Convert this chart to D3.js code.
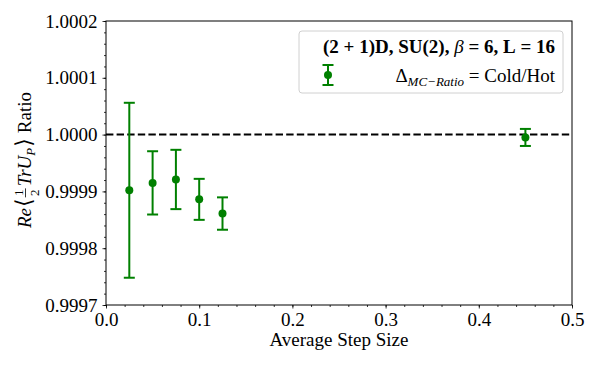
<!DOCTYPE html>
<html>
<head>
<meta charset="utf-8">
<script src="https://cdn.jsdelivr.net/npm/d3@7"></script>
<style>
  body { margin: 0; background: #fff; }
  svg text { font-family: "Liberation Serif", "DejaVu Serif", serif; fill: #000; }
</style>
</head>
<body>
<div id="chart"></div>
<script>
// step sizes and Cold/Hot ratios
const stepSizes = [0.025, 0.05, 0.075, 0.1, 0.125, 0.45];
const ratios = [0.999902, 0.999915, 0.999921, 0.999886, 0.999861, 0.999995];
const errors = [0.000154, 0.0000557, 0.0000522, 0.0000361, 0.0000285, 0.0000150];
const xTicks = [0.0, 0.1, 0.2, 0.3, 0.4, 0.5];
const yTicks = [0.9997, 0.9998, 0.9999, 1.0000, 1.0001, 1.0002];

const W = 600, H = 370;
const margin = { top: 21, right: 28, bottom: 65, left: 106 };
const width = W - margin.left - margin.right;
const height = H - margin.top - margin.bottom;
const green = "#008000";
const fs = 19;

const svg = d3.select("#chart").append("svg").attr("width", W).attr("height", H);
const g = svg.append("g").attr("transform", `translate(${margin.left},${margin.top})`);

const x = d3.scaleLinear().domain([0, 0.5]).range([0, width]);
const y = d3.scaleLinear().domain([0.9997, 1.0002]).range([height, 0]);

// minor ticks first
g.append("g").attr("transform", `translate(0,${height})`)
    .call(d3.axisBottom(x).tickValues(d3.range(0, 0.5001, 0.02)).tickSize(2).tickFormat(""))
    .call(a => a.select(".domain").remove());
g.append("g")
    .call(d3.axisLeft(y).tickValues(d3.range(0, 26).map(i => 0.9997 + i * 0.00002)).tickSize(2).tickFormat(""))
    .call(a => a.select(".domain").remove());

const xAxis = g.append("g").attr("transform", `translate(0,${height})`)
    .call(d3.axisBottom(x).tickValues(xTicks).tickSize(3.5).tickPadding(4).tickFormat(d3.format(".1f")));
const yAxis = g.append("g")
    .call(d3.axisLeft(y).tickValues(yTicks).tickSize(3.5).tickPadding(5).tickFormat(d3.format(".4f")));
[xAxis, yAxis].forEach(a => {
    a.selectAll("text").attr("font-size", fs).style("font-family", "Liberation Serif, serif");
    a.select(".domain").remove();
});
svg.selectAll(".tick line").attr("stroke", "#000").attr("stroke-width", 0.8);

// frame
g.append("rect").attr("width", width).attr("height", height)
    .attr("fill", "none").attr("stroke", "#000").attr("stroke-width", 1);

// reference line at 1
g.append("line").attr("x1", 0).attr("x2", width).attr("y1", y(1)).attr("y2", y(1))
    .attr("stroke", "#000").attr("stroke-width", 2).attr("stroke-dasharray", "7.4,3.2");

// error bars
const pts = stepSizes.map((s, i) => ({ s: s, r: ratios[i], e: errors[i] }));
const bars = g.selectAll("g.pt").data(pts).enter().append("g").attr("class", "pt");
bars.append("line")
    .attr("x1", d => x(d.s)).attr("x2", d => x(d.s))
    .attr("y1", d => y(d.r - d.e)).attr("y2", d => y(d.r + d.e))
    .attr("stroke", green).attr("stroke-width", 2);
[-1, 1].forEach(sg => {
    bars.append("line")
        .attr("x1", d => x(d.s) - 5.5).attr("x2", d => x(d.s) + 5.5)
        .attr("y1", d => y(d.r + sg * d.e)).attr("y2", d => y(d.r + sg * d.e))
        .attr("stroke", green).attr("stroke-width", 2);
});
bars.append("circle").attr("cx", d => x(d.s)).attr("cy", d => y(d.r)).attr("r", 4).attr("fill", green);

// legend
const sp = "\u2005";
const lg = svg.append("g");
lg.append("rect").attr("x", 299).attr("y", 31).attr("width", 264).attr("height", 62).attr("rx", 3)
    .attr("fill", "#fff").attr("fill-opacity", 0.8).attr("stroke", "#d0d0d0").attr("stroke-width", 1);
const l1 = lg.append("text").attr("x", 555).attr("y", 53).attr("font-size", fs).attr("text-anchor", "end");
l1.append("tspan").attr("font-weight", "bold").text(`(2${sp}+${sp}1)D, SU(2), `);
l1.append("tspan").attr("font-style", "italic").text("β");
l1.append("tspan").attr("font-weight", "bold").text(`${sp}=${sp}6, L${sp}=${sp}16`);
const l2 = lg.append("text").attr("x", 555).attr("y", 82).attr("font-size", fs).attr("text-anchor", "end");
l2.append("tspan").text("Δ");
l2.append("tspan").attr("font-style", "italic").attr("font-size", 13).attr("dy", 4).text("MC−Ratio");
l2.append("tspan").attr("dy", -4).text(`${sp}=${sp}Cold/Hot`);
const lx = 328, ly = 75;
lg.append("line").attr("x1", lx).attr("x2", lx).attr("y1", ly - 10).attr("y2", ly + 10).attr("stroke", green).attr("stroke-width", 2);
[-10, 10].forEach(o => lg.append("line").attr("x1", lx - 5.5).attr("x2", lx + 5.5).attr("y1", ly + o).attr("y2", ly + o).attr("stroke", green).attr("stroke-width", 2));
lg.append("circle").attr("cx", lx).attr("cy", ly).attr("r", 4).attr("fill", green);

// x label
svg.append("text").attr("x", 339).attr("y", 346).attr("text-anchor", "middle").attr("font-size", fs)
    .text("Average Step Size");

// y label, built piece by piece in a rotated group
const yl = svg.append("g").attr("transform", "translate(31,160) rotate(-90)");
const inner = yl.append("g");
let cx = 0;
function piece(txt, opts) {
    const t = inner.append("text").attr("x", cx).attr("y", opts.dy || 0)
        .attr("font-size", opts.size || fs).text(txt);
    if (opts.italic) t.attr("font-style", "italic");
    const w = t.node().getComputedTextLength();
    cx += w + (opts.gap || 0);
    return t;
}
piece("Re", { italic: true, gap: 1 });
piece("⟨", { size: 22, gap: 1 });
// small fraction 1/2
const fx = cx;
inner.append("text").attr("x", fx + 4.5).attr("y", -8).attr("font-size", 13).attr("text-anchor", "middle").text("1");
inner.append("text").attr("x", fx + 4.5).attr("y", 8).attr("font-size", 13).attr("text-anchor", "middle").text("2");
inner.append("line").attr("x1", fx).attr("x2", fx + 9).attr("y1", -5.5).attr("y2", -5.5).attr("stroke", "#000").attr("stroke-width", 0.8);
cx += 11;
piece("TrU", { italic: true });
piece("P", { italic: true, size: 13, dy: 4, gap: 1 });
piece("⟩", { size: 22, gap: 5 });
piece("Ratio", {});
inner.attr("transform", `translate(${-cx / 2},0)`);
</script>
</body>
</html>
